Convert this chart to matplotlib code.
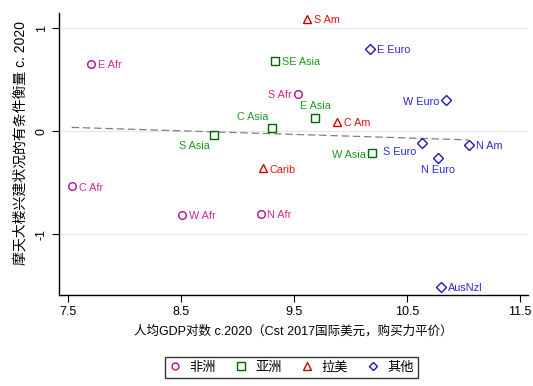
import numpy as np
import matplotlib
matplotlib.use('Agg')
import matplotlib.pyplot as plt

plt.rcParams['font.family'] = ['Liberation Sans', 'Noto Sans CJK SC', 'DejaVu Sans']

# data
regions = ['E Afr', 'C Afr', 'W Afr', 'N Afr', 'S Afr',
           'S Asia', 'C Asia', 'SE Asia', 'E Asia', 'W Asia',
           'S Am', 'C Am', 'Carib',
           'E Euro', 'W Euro', 'S Euro', 'N Euro', 'N Am', 'AusNzl']
group = ['非洲'] * 5 + ['亚洲'] * 5 + ['拉美'] * 3 + ['其他'] * 6
log_gdp = [7.71, 7.535, 8.51, 9.205, 9.54,
           8.79, 9.305, 9.335, 9.69, 10.195,
           9.615, 9.88, 9.225,
           10.175, 10.845, 10.635, 10.775, 11.045, 10.805]
skyscraper = [0.655, -0.535, -0.815, -0.80, 0.365,
              -0.04, 0.03, 0.68, 0.13, -0.215,
              1.095, 0.09, -0.36,
              0.80, 0.30, -0.115, -0.26, -0.135, -1.51]
# label clock positions (Stata style)
clockpos = [3, 3, 3, 3, 9,
            7, 11, 3, 12, 9,
            3, 3, 3,
            3, 9, 8, 6, 3, 3]

groups = ['非洲', '亚洲', '拉美', '其他']
markers = {'非洲': 'o', '亚洲': 's', '拉美': '^', '其他': 'D'}
mcolor = {'非洲': '#b0108c', '亚洲': '#006400', '拉美': '#c80000', '其他': '#1a1ab4'}
lcolor = {'非洲': '#d8249a', '亚洲': '#1f9a1f', '拉美': '#e01010', '其他': '#2a2ad0'}
msize = {'非洲': 5.5, '亚洲': 6, '拉美': 6, '其他': 5}

x = np.array(log_gdp)
y = np.array(skyscraper)

fig = plt.figure(figsize=(5.33, 3.86), dpi=100)
ax = fig.add_axes([59 / 533, 1 - 295 / 386, 469 / 533, 282 / 386])

for g in groups:
    idx = [i for i, gg in enumerate(group) if gg == g]
    ax.plot(x[idx], y[idx], linestyle='none', marker=markers[g], markersize=msize[g],
            markerfacecolor='none', markeredgecolor=mcolor[g], markeredgewidth=1, label=g,
            zorder=3)

for i, name in enumerate(regions):
    ang = np.deg2rad(90 - 30 * clockpos[i])
    c, s = np.cos(ang), np.sin(ang)
    r = 5
    ha = 'left' if c > 0.3 else ('right' if c < -0.3 else 'center')
    va = 'bottom' if s > 0.3 else ('top' if s < -0.3 else 'center')
    ax.annotate(name, (x[i], y[i]), xytext=(r * c, r * s - (0.8 if va == 'center' else 0)),
                textcoords='offset points', ha=ha, va=va, fontsize=7.8,
                color=lcolor[group[i]])

# linear fit line
b, a = np.polyfit(x, y, 1)
xs = np.array([x.min(), x.max()])
ax.plot(xs, a + b * xs, color='#808080', linestyle=(0, (6, 3)), linewidth=0.9, zorder=2)

ax.set_xlim(7.423, 11.57)
ax.set_ylim(-1.59, 1.15)
ax.set_xticks([7.5, 8.5, 9.5, 10.5, 11.5])
ax.set_xticklabels(['7.5', '8.5', '9.5', '10.5', '11.5'])
ax.set_yticks([-1, 0, 1])
ax.set_yticklabels(['-1', '0', '1'], rotation=90, va='center')
ax.tick_params(labelsize=9, length=5, width=0.8, pad=3)
ax.grid(axis='y', color='#e6e6e6', linewidth=0.8, zorder=0)
ax.set_axisbelow(True)
for sp in ['top', 'right']:
    ax.spines[sp].set_visible(False)
ax.spines['left'].set_linewidth(1)
ax.spines['bottom'].set_linewidth(1)

ax.set_xlabel('人均GDP对数 c.2020（Cst 2017国际美元，购买力平价）', fontsize=9, labelpad=5)
ax.set_ylabel('摩天大楼兴建状况的有条件衡量 c. 2020', fontsize=10)
ax.yaxis.set_label_coords(-31 / 469, (295 - 143) / 282)

leg = fig.legend(loc='center', bbox_to_anchor=((163 + 420) / 2 / 533, 1 - 367.5 / 386),
                 ncol=4, fontsize=9.5, frameon=True, fancybox=False, edgecolor='black',
                 handletextpad=0.7, columnspacing=1.5, borderpad=0.3, handlelength=0.8,
                 markerscale=0.9)
leg.get_frame().set_linewidth(1)

fig.savefig('out.png', dpi=100)
